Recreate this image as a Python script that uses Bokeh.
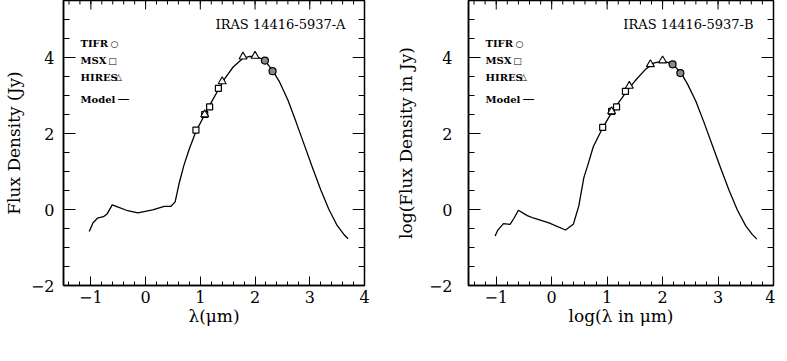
from bokeh.plotting import figure
from bokeh.layouts import row
from bokeh.models import Range1d, FixedTicker, Label, ColumnDataSource
from bokeh.embed import file_html
from bokeh.resources import INLINE

# ---------------- data ----------------
x_ticks = [-1, 0, 1, 2, 3, 4]
y_ticks = [-2, 0, 2, 4]

# photometry (log lambda)
msx_x = [0.92, 1.08, 1.17, 1.33]
hires_x = [1.08, 1.40, 1.78, 2.00]
tifr_x = [2.18, 2.32]

# panel A
msx_a = [2.09, 2.50, 2.70, 3.19]
hires_a = [2.50, 3.37, 4.02, 4.04]
tifr_a = [3.92, 3.64]
model_xa = [-1.03, -0.96, -0.88, -0.77, -0.70, -0.61, -0.50, -0.35, -0.14, 0.13, 0.34, 0.46,
            0.54, 0.61, 0.70, 0.80, 0.92, 1.08, 1.20, 1.33, 1.45, 1.60, 1.78, 1.90, 2.00,
            2.10, 2.20, 2.32, 2.45, 2.60, 2.75, 2.90, 3.05, 3.20, 3.35, 3.50, 3.62, 3.70]
model_ya = [-0.58, -0.35, -0.23, -0.19, -0.11, 0.12, 0.06, -0.02, -0.09, -0.01, 0.08, 0.08,
            0.20, 0.67, 1.16, 1.60, 2.05, 2.50, 2.82, 3.15, 3.45, 3.75, 3.98, 4.03, 4.02,
            3.98, 3.88, 3.66, 3.35, 2.88, 2.30, 1.70, 1.10, 0.52, 0.00, -0.42, -0.65, -0.77]

# panel B
msx_b = [2.16, 2.58, 2.70, 3.11]
hires_b = [2.58, 3.25, 3.82, 3.92]
tifr_b = [3.82, 3.59]
model_xb = [-1.02, -0.975, -0.87, -0.75, -0.68, -0.60, -0.44, -0.32, -0.05, 0.25, 0.39, 0.49,
            0.58, 0.65, 0.75, 0.92, 1.08, 1.20, 1.35, 1.50, 1.70, 1.85, 2.00, 2.10, 2.20,
            2.33, 2.45, 2.60, 2.75, 2.90, 3.05, 3.20, 3.35, 3.50, 3.62, 3.70]
model_yb = [-0.70, -0.55, -0.37, -0.39, -0.23, -0.02, -0.16, -0.23, -0.35, -0.54, -0.39, 0.10,
            0.84, 1.16, 1.65, 2.15, 2.55, 2.80, 3.10, 3.38, 3.70, 3.86, 3.90, 3.87, 3.80,
            3.60, 3.30, 2.85, 2.28, 1.68, 1.08, 0.50, -0.02, -0.43, -0.66, -0.78]

FONT = "DejaVu Serif"
XR = (-1.5, 4.0)
YR = (-2.0, 5.5)
HEIGHT = 345
BORDER_BOTTOM = 60
FH = HEIGHT - BORDER_BOTTOM          # frame height (top border 0)
FB = 8 + FH                          # frame bottom on the page


def minor(lo, hi, step):
    out = []
    v = lo
    while v <= hi + 1e-9:
        out.append(round(v, 3))
        v += step
    return out


x_minor = minor(-1.4, 3.8, 0.2)
y_minor = minor(-1.5, 5.0, 0.5)


def add_mirror_ticks(p, fw):
    """Inward ticks on the top and right edges of the frame."""
    ux = (XR[1] - XR[0]) / fw
    uy = (YR[1] - YR[0]) / FH
    x0, y0, x1, y1 = [], [], [], []
    for vals, L in [(x_ticks, 9), (x_minor, 4)]:
        for v in vals:
            x0.append(v)
            x1.append(v)
            y0.append(YR[1])
            y1.append(YR[1] - L * uy)
    for vals, L in [(y_ticks, 12), (y_minor, 6)]:
        for v in vals:
            y0.append(v)
            y1.append(v)
            x0.append(XR[1])
            x1.append(XR[1] - L * ux)
    src = ColumnDataSource(dict(x0=x0, y0=y0, x1=x1, y1=y1))
    p.segment(x0="x0", y0="y0", x1="x1", y1="y1", source=src,
              line_color="black", line_width=1)


def make_panel(title, xlabel, ylabel, my, hy, ty, model_x, model_y, fw,
               border_left, border_right, ytick_standoff, ylabel_standoff,
               sym_x, title_x):
    p = figure(width=border_left + fw + border_right, height=HEIGHT,
               x_range=Range1d(*XR), y_range=Range1d(*YR),
               output_backend="svg", toolbar_location=None,
               min_border_left=border_left, min_border_right=border_right,
               min_border_top=0, min_border_bottom=BORDER_BOTTOM)
    p.grid.visible = False
    p.outline_line_color = "black"
    p.outline_line_width = 1.5
    p.background_fill_color = "white"
    p.border_fill_color = "white"

    xa = p.xaxis[0]
    xa.ticker = FixedTicker(ticks=x_ticks, minor_ticks=x_minor)
    xa.axis_label = xlabel
    xa.axis_label_text_font = FONT
    xa.axis_label_text_font_style = "normal"
    xa.axis_label_text_font_size = "17px"
    xa.axis_label_text_color = "black"
    xa.axis_label_standoff = 0
    xa.major_label_text_font = FONT
    xa.major_label_text_font_size = "16px"
    xa.major_label_text_color = "black"
    xa.major_label_standoff = 5
    xa.major_tick_in = 9
    xa.minor_tick_in = 4

    ya = p.yaxis[0]
    ya.ticker = FixedTicker(ticks=y_ticks, minor_ticks=y_minor)
    ya.axis_label = ylabel
    ya.axis_label_text_font = FONT
    ya.axis_label_text_font_style = "normal"
    ya.axis_label_text_font_size = "17px"
    ya.axis_label_text_color = "black"
    ya.axis_label_standoff = ylabel_standoff
    ya.major_label_text_font = FONT
    ya.major_label_text_font_size = "16px"
    ya.major_label_text_color = "black"
    ya.major_label_standoff = ytick_standoff
    ya.major_label_orientation = "horizontal"
    ya.major_tick_in = 12
    ya.minor_tick_in = 6

    for ax in [xa, ya]:
        ax.axis_line_color = "black"
        ax.axis_line_width = 1.5
        ax.major_tick_out = 0
        ax.minor_tick_out = 0
        ax.major_tick_line_color = "black"
        ax.minor_tick_line_color = "black"
        ax.major_tick_line_width = 1
        ax.minor_tick_line_width = 1

    add_mirror_ticks(p, fw)

    p.line(model_x, model_y, line_color="black", line_width=1.3)
    p.scatter(msx_x, my, marker="square", size=6, fill_color="white",
              line_color="black", line_width=1.2)
    p.scatter(hires_x, hy, marker="triangle", size=8, fill_color="white",
              line_color="black", line_width=1.1)
    p.scatter(tifr_x, ty, marker="circle", size=7, fill_color="#8a8a8a",
              line_color="black", line_width=1.2)

    # panel title
    p.add_layout(Label(x=title_x, y=FB - 32, x_units="screen", y_units="screen",
                       text=title, text_align="right", text_baseline="middle",
                       text_font=FONT, text_font_size="13px", text_color="black"))
    # legend (names on the left, symbol to the right, as in the original)
    entries = [("TIFR", "○", FB - 51, sym_x, "9px"),
               ("MSX", "□", FB - 68, sym_x - 2, "9px"),
               ("HIRES", "△", FB - 84.5, sym_x + 4, "9px"),
               ("Model", "—", FB - 106.5, sym_x + 9, "12px")]
    for name, sym, yy, sx, fs in entries:
        p.add_layout(Label(x=17, y=yy, x_units="screen", y_units="screen", text=name,
                           text_baseline="middle", text_font=FONT, text_font_style="bold",
                           text_font_size="10px", text_color="black"))
        p.add_layout(Label(x=sx, y=yy, x_units="screen", y_units="screen", text=sym,
                           text_align="center", text_baseline="middle",
                           text_font="DejaVu Sans", text_font_size=fs, text_color="black"))
    return p


p1 = make_panel("IRAS 14416-5937-A", "λ(μm)", "Flux Density (Jy)",
                msx_a, hires_a, tifr_a, model_xa, model_ya, fw=306,
                border_left=58, border_right=28, ytick_standoff=9, ylabel_standoff=4,
                sym_x=51, title_x=282)
p2 = make_panel("IRAS 14416-5937-B", "log(λ in μm)", "log(Flux Density in Jy)",
                msx_b, hires_b, tifr_b, model_xb, model_yb, fw=307,
                border_left=74, border_right=2, ytick_standoff=16, ylabel_standoff=10,
                sym_x=51, title_x=285)

layout = row(p1, p2)
open("out.html", "w").write(file_html(layout, INLINE))
